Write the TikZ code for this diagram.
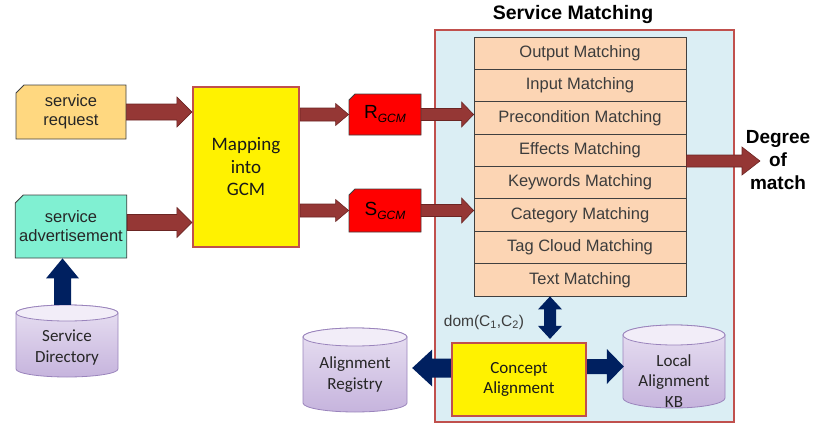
\documentclass[tikz,border=0pt]{standalone}
\usepackage{fontspec}
\setmainfont{Liberation Sans}
\newfontfamily\calfont{Carlito}
\usetikzlibrary{calc,shapes.misc}
\definecolor{brownarr}{HTML}{953735}
\definecolor{brownedge}{HTML}{6B2523}
\definecolor{navy}{HTML}{002060}
\definecolor{redframe}{HTML}{C0504D}
\definecolor{lightblue}{HTML}{DBEEF4}
\definecolor{peach}{HTML}{FCD5B4}
\definecolor{reqfill}{HTML}{FFD880}
\definecolor{advfill}{HTML}{80F0D2}
\definecolor{cyltop}{HTML}{F2EDF8}
\definecolor{cylhi}{HTML}{E8E0F2}
\definecolor{cyllo}{HTML}{C6B4DD}
\definecolor{cyledge}{HTML}{9A84BC}
\definecolor{txtgray}{HTML}{3C3C3C}
\definecolor{boxedge}{HTML}{404040}

% block arrow from #1 to #2: half shaft #3, half head #4, head length #5, style #6
\newcommand\blockarr[6]{%
  \coordinate (bab) at ($(#2)!#5!(#1)$);
  \path[#6] ($(#1)!#3!90:(#2)$) -- ($(bab)!#3!-90:(#1)$) -- ($(bab)!#4!-90:(#1)$)
    -- (#2) -- ($(bab)!#4!90:(#1)$) -- ($(bab)!#3!90:(#1)$) -- ($(#1)!#3!-90:(#2)$) -- cycle;
}
% double block arrow
\newcommand\dblarr[6]{%
  \coordinate (daa) at ($(#1)!#5!(#2)$);
  \coordinate (dab) at ($(#2)!#5!(#1)$);
  \path[#6] (#1) -- ($(daa)!#4!90:(#2)$) -- ($(daa)!#3!90:(#2)$) -- ($(dab)!#3!-90:(#1)$)
    -- ($(dab)!#4!-90:(#1)$) -- (#2) -- ($(dab)!#4!90:(#1)$) -- ($(dab)!#3!90:(#1)$)
    -- ($(daa)!#3!-90:(#2)$) -- ($(daa)!#4!-90:(#2)$) -- cycle;
}
% cylinder: x1,y1,x2,y2,ry (pixel coordinates, y downward)
\newcommand\mycyl[5]{%
  \pgfmathsetmacro\cylcx{(#1+#3)/2}%
  \pgfmathsetmacro\cylrx{(#3-#1)/2}%
  \path[top color=cylhi, bottom color=cyllo, draw=cyledge, line width=0.8pt]
    (#1,#4-#5) -- (#1,#2+#5) arc[start angle=180, end angle=0, x radius=\cylrx pt, y radius=#5pt]
    -- (#3,#4-#5) arc[start angle=0, end angle=-180, x radius=\cylrx pt, y radius=#5pt] -- cycle;
  \path[fill=cyltop, draw=cyledge, line width=0.8pt] (\cylcx,#2+#5) ellipse[x radius=\cylrx pt, y radius=#5pt];
}

\tikzset{
  rowbox/.style={draw=boxedge, line width=0.8pt, fill=peach, minimum width=212pt, minimum height=32.375pt,
    inner sep=0pt, text=txtgray, font=\fontsize{16.5}{18}\selectfont},
  notebox/.style={chamfered rectangle, chamfered rectangle corners=north west,
    chamfered rectangle xsep=4pt, chamfered rectangle ysep=4pt,
    draw=boxedge, line width=0.8pt, inner sep=0pt, align=center, text=black!85,
    font=\fontsize{16.5}{19}\selectfont},
  gcmbox/.style={chamfered rectangle, chamfered rectangle corners=north west,
    chamfered rectangle xsep=3pt, chamfered rectangle ysep=3pt,
    draw=boxedge, line width=0.8pt, fill=red, inner sep=0pt, font=\fontsize{19}{20}\selectfont},
  yelbox/.style={draw=redframe, line width=2.2pt, fill=yellow, inner sep=0pt, align=center, text=black!90},
  cylnode/.style={inner sep=0pt},
  cyltext/.style={align=center, text=black!85, font=\calfont\fontsize{17}{21}\selectfont},
  brownA/.style={fill=brownarr, draw=brownedge, line width=0.6pt},
  navyA/.style={fill=navy},
}

\begin{document}
\begin{tikzpicture}[x=1pt, y=-1pt]
\useasboundingbox (0,0) rectangle (815,423);

% Service Matching frame
\node[draw=redframe, line width=2pt, fill=lightblue, minimum width=299pt, minimum height=392pt, inner sep=0pt]
  (sm) at (584.5,225.5) {};
\node[font=\bfseries\fontsize{19.5}{20}\selectfont] (title) at (573,15) {Service Matching};

% matching rows
\node[rowbox] (r1) at (580,53.19) {Output Matching};
\node[rowbox] (r2) at (580,85.56) {Input Matching};
\node[rowbox] (r3) at (580,117.94) {Precondition Matching};
\node[rowbox] (r4) at (580,150.31) {Effects Matching};
\node[rowbox] (r5) at (580,182.69) {Keywords Matching};
\node[rowbox] (r6) at (580,215.06) {Category Matching};
\node[rowbox] (r7) at (580,247.44) {Tag Cloud Matching};
\node[rowbox] (r8) at (580,279.81) {Text Matching};

% input boxes
\node[notebox, fill=reqfill, minimum width=110pt, minimum height=54pt] (req) at (71,112) {service\\request};
\node[notebox, fill=advfill, minimum width=110pt, minimum height=63pt] (adv) at (71,226.5) {service\\advertisement};

% mapping
\node[yelbox, minimum width=106pt, minimum height=160pt, font=\calfont\fontsize{19}{22.5}\selectfont]
  (map) at (246,167) {Mapping\\into\\GCM};

\node[gcmbox, minimum width=72pt, minimum height=41pt] (R) at (385,114.5)
  {R\raisebox{-4pt}{\fontsize{12}{12}\selectfont\itshape GCM}};
\node[gcmbox, minimum width=72pt, minimum height=43pt] (S) at (385,210.5)
  {S\raisebox{-4pt}{\fontsize{12}{12}\selectfont\itshape GCM}};

% degree of match
\node[align=center, font=\bfseries\fontsize{19}{23}\selectfont] (deg) at (778,160) {Degree\\of\\match};

% cylinders
\mycyl{16}{305}{118}{377}{8}
\node[cylnode, minimum width=102pt, minimum height=72pt] (sd) at (67,341) {};
\node[cyltext] (sdt) at (67,348) {Service\\Directory};

\mycyl{303}{328}{407}{412}{9}
\node[cylnode, minimum width=104pt, minimum height=84pt] (ar) at (355,370) {};
\node[cyltext] (art) at (355,375) {Alignment\\Registry};

\mycyl{623}{325}{725}{408}{10}
\node[cylnode, minimum width=102pt, minimum height=83pt] (kb) at (674,366.5) {};
\node[cyltext, font=\calfont\fontsize{17}{20.5}\selectfont] (kbt) at (674,381) {Local\\Alignment\\KB};

% concept alignment
\node[yelbox, minimum width=134pt, minimum height=73pt, font=\calfont\fontsize{17}{20}\selectfont]
  (ca) at (519,379.5) {Concept\\Alignment};

\node[text=txtgray, font=\fontsize{15.5}{17}\selectfont, inner sep=0pt] (dom) at (484,322)
  {dom(C\textsubscript{1},C\textsubscript{2})};

% brown arrows
\coordinate (reqin) at (req.east -| map.west);
\blockarr{req.east}{reqin}{8pt}{15pt}{15pt}{brownA}
\coordinate (advout) at ($(adv.east)+(0,-4)$);
\coordinate (advin) at (advout -| map.west);
\blockarr{advout}{advin}{8pt}{15pt}{15pt}{brownA}
\coordinate (rout) at (R.west -| map.east);
\blockarr{rout}{R.west}{6.5pt}{11pt}{13pt}{brownA}
\coordinate (sout) at (S.west -| map.east);
\blockarr{sout}{S.west}{6.5pt}{11pt}{13pt}{brownA}
\coordinate (rin) at (R.east -| r3.west);
\blockarr{R.east}{rin}{6pt}{12.5pt}{12pt}{brownA}
\coordinate (sin) at (S.east -| r6.west);
\blockarr{S.east}{sin}{6pt}{12.5pt}{12pt}{brownA}
\coordinate (degtip) at ($(deg.center)+(-18,1)$);
\coordinate (degout) at (degtip -| r4.east);
\blockarr{degout}{degtip}{6pt}{14pt}{18pt}{brownA}

% navy arrows
\coordinate (sdtop) at ($(sd.north)+(-4.5,0)$);
\coordinate (advbot) at (sdtop |- adv.south);
\blockarr{sdtop}{advbot}{8.5pt}{16.5pt}{20pt}{navyA}
\coordinate (dtop) at ($(r8.south)+(-30,0)$);
\coordinate (dbot) at ($(dtop |- ca.north)+(0,-3)$);
\dblarr{dtop}{dbot}{6pt}{12pt}{13pt}{navyA}
\coordinate (artip) at ($(ar.east)+(5,-2)$);
\coordinate (caleft) at (artip -| ca.west);
\blockarr{caleft}{artip}{9.5pt}{18.5pt}{20pt}{navyA}
\coordinate (kbin) at ($(kb.west)+(1,0)$);
\coordinate (caright) at (kbin -| ca.east);
\blockarr{caright}{kbin}{7.5pt}{17.5pt}{17pt}{navyA}
\end{tikzpicture}
\end{document}
